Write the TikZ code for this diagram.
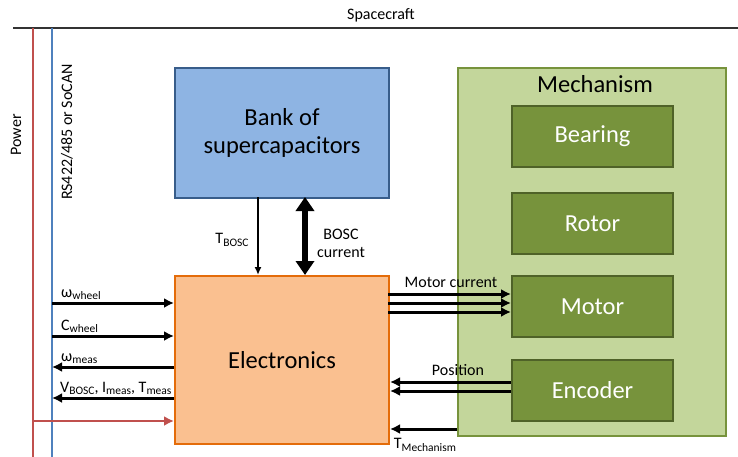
\documentclass[tikz,border=0pt]{standalone}
\usepackage{fontspec}
\setmainfont{Carlito}
\usetikzlibrary{arrows.meta,calc}
\newcommand{\sbx}[1]{\raisebox{-0.35ex}{\fontsize{11.5}{11.5}\selectfont #1}}
\definecolor{bankfill}{HTML}{8EB4E3}
\definecolor{bankdraw}{HTML}{385D8A}
\definecolor{elecfill}{HTML}{FAC090}
\definecolor{elecdraw}{HTML}{E46C0A}
\definecolor{mechfill}{HTML}{C3D69B}
\definecolor{mechdraw}{HTML}{77933C}
\definecolor{partfill}{HTML}{77933C}
\definecolor{partdraw}{HTML}{4F6228}
\definecolor{pwr}{HTML}{C0504D}
\definecolor{bus}{HTML}{4F81BD}
\tikzset{
  big/.style={font=\fontsize{24.5}{28}\selectfont},
  lbl/.style={font=\fontsize{16}{18}\selectfont, inner sep=1pt},
  part/.style={draw=partdraw, fill=partfill, line width=2pt, minimum width=161pt, minimum height=61pt, text=white, big},
  arr/.style={line width=3pt, -{Latex[length=10pt,width=10pt]}},
}
\begin{document}
\begin{tikzpicture}[x=1pt,y=-1pt]
\useasboundingbox (0,0) rectangle (738,457);
% spacecraft
\coordinate (sl) at (13,28);
\coordinate (sr) at (738,28);
\draw[line width=1.8pt, black!80] (sl) -- (sr);
\node[lbl] (sc) at (381,15) {Spacecraft};
\coordinate (p0) at (33,28); \coordinate (p1) at (33,457);
\coordinate (b0) at (52,28); \coordinate (b1) at (52,457);
\draw[pwr, line width=2.5pt] (p0) -- (p1);
\draw[bus, line width=2.5pt] (b0) -- (b1);
\node[lbl, rotate=90] (pw) at (16,135) {Power};
\node[lbl, rotate=90] (rs) at (67,132) {RS422/485 or SoCAN};
% boxes
\node[draw=bankdraw, fill=bankfill, line width=2pt, minimum width=214pt, minimum height=130pt, big, align=center, anchor=north west] (bank) at (174,67) {Bank of\\supercapacitors};
\node[draw=elecdraw, fill=elecfill, line width=2pt, minimum width=214pt, minimum height=168pt, big, anchor=north west] (elec) at (174,275) {Electronics};
\node[draw=mechdraw, fill=mechfill, line width=2pt, minimum width=268pt, minimum height=368pt, anchor=north west] (mech) at (457,67) {};
\node[big] (mt) at (595,84) {Mechanism};
\node[part, anchor=north west] (bear) at (511,105) {Bearing};
\node[part, anchor=north west] (rot) at (511,192) {Rotor};
\node[part, anchor=north west] (mot) at (511,275) {Motor};
\node[part, anchor=north west] (enc) at (511,359) {Encoder};
% bank <-> electronics
\coordinate (tb) at (258,197);
\draw[line width=1.6pt, -{Latex[length=8pt,width=7pt]}] (tb) -- (tb |- elec.north);
\node[lbl] (tbl) at (232,240) {T\sbx{BOSC}};
\coordinate (bc) at (305,197);
\draw[line width=5.5pt, {Triangle[length=14pt,width=18pt]}-{Triangle[length=14pt,width=18pt]}] (bc) -- (bc |- elec.north);
\node[lbl, align=center] (bcl) at (341,243) {BOSC\\current};
% left bus arrows
\coordinate (w1) at (52,303);
\coordinate (w2) at (52,336);
\coordinate (w3) at (52,367);
\coordinate (w4) at (52,398);
\coordinate (w5) at (33,421);
\draw[arr] (w1) -- (w1 -| elec.west);
\draw[arr] (w2) -- (w2 -| elec.west);
\draw[arr, {Latex[length=10pt,width=10pt]}-] (w3) -- (w3 -| elec.west);
\draw[arr, {Latex[length=10pt,width=10pt]}-] (w4) -- (w4 -| elec.west);
\draw[pwr, line width=2.5pt, -{Latex[length=10pt,width=10pt]}] (w5) -- (w5 -| elec.west);
\node[lbl, anchor=south west] (l1) at (60,301) {ω\sbx{wheel}};
\node[lbl, anchor=south west] (l2) at (60,334) {C\sbx{wheel}};
\node[lbl, anchor=south west] (l3) at (60,365) {ω\sbx{meas}};
\node[lbl, anchor=south west] (l4) at (59,396) {V\sbx{BOSC}, I\sbx{meas}, T\sbx{meas}};
% motor current
\foreach \y/\n in {294/m1,303/m2,312/m3}{
  \coordinate (\n) at (388,\y);
  \draw[arr] (\n) -- (\n -| mot.west);
}
\node[lbl] (mcl) at (451,282) {Motor current};
% position
\foreach \y/\n in {382/e1,391/e2}{
  \coordinate (\n) at (511,\y);
  \draw[arr] (\n) -- (\n -| elec.east);
}
\node[lbl] (pol) at (458,370) {Position};
% T mechanism
\coordinate (tm) at (457,429);
\draw[arr] (tm) -- (tm -| elec.east);
\node[lbl] (tml) at (425,445) {T\sbx{Mechanism}};
\end{tikzpicture}
\end{document}
